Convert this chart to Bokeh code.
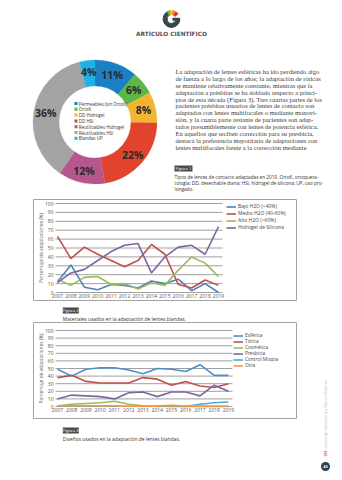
import math
from bokeh.plotting import figure
from bokeh.layouts import column, row
from bokeh.models import Range1d, FixedTicker, Legend, LegendItem
from bokeh.core.properties import value
from bokeh.embed import file_html
from bokeh.resources import INLINE

# ---------------- data ----------------
years = [2007, 2008, 2009, 2010, 2011, 2012, 2013, 2014, 2015, 2016, 2017, 2018, 2019]
year_labels = [str(y) for y in years]
pct_ticks = [0, 10, 20, 30, 40, 50, 60, 70, 80, 90, 100]

donut_categories = ["Permeables (sin OrtoK)", "OrtoK", "DD Hidrogel", "DD HSi",
                    "Reutilizables Hidrogel", "Reutilizables HSi", "Blandas UP"]
donut_values = [11, 6, 8, 22, 12, 36, 4]
donut_colors = ["#1b7fc4", "#5cb648", "#f2b531", "#e0442e", "#b5578c", "#a3a3a3", "#1eb0e6"]

materials = ["Bajo H2O (<40%)", "Medio H2O (40-60%)", "Alto H2O (>60%)", "Hidrogel de Silicona"]
bajo_h2o = [12, 31, 6, 3, 9, 8, 5, 13, 10, 15, 2, 10, 0]
medio_h2o = [63, 38, 51, 43, 36, 29, 36, 54, 43, 9, 5, 14, 8]
alto_h2o = [15, 8, 17, 18, 9, 10, 4, 11, 8, 25, 40, 33, 18]
hidrogel_silicona = [11, 22, 26, 36, 46, 53, 55, 22, 40, 51, 53, 43, 74]
material_colors = ["#4f81bd", "#c0504d", "#9bbb59", "#8064a2"]

designs = ["Esférica", "Tórica", "Cosmética", "Presbicia", "Control Miopía", "Otra"]
esferica = [49, 40, 49, 51, 51, 48, 43, 50, 49, 46, 55, 41, 41]
torica = [38, 41, 33, 31, 31, 31, 38, 36, 28, 33, 27, 25, 30]
cosmetica = [1, 3, 4, 5, 7, 3, 1, 0.5, 0, 0, 0, 0, 0]
presbicia = [10, 15, 14, 13, 10, 18, 19, 13, 19, 19, 14, 28, 20]
control_miopia = [float("nan")] * 7 + [0, 1, 0, 3, 5, 6]
otra = [1, 1, 1, 1, 1, 0.5, 0.5, 0.5, 1.5, 0.5, 0.5, 0.5, 0.5]
design_colors = ["#4f8fc7", "#c0504d", "#9bbb59", "#8064a2", "#4bacc6", "#f79646"]

paragraph = [
    "La adaptación de lentes esféricas ha ido perdiendo algo",
    "de fuerza a lo largo de los años; la adaptación de tóricas",
    "se mantiene relativamente constante, mientras que la",
    "adaptación a présbitas se ha doblado respecto a princi-",
    "pios de esta década (Figura 3). Tres cuartas partes de los",
    "pacientes présbitas usuarios de lentes de contacto son",
    "adaptados con lentes multifocales o mediante monovi-",
    "sión, y la cuarta parte restante de pacientes son adap-",
    "tados presumiblemente con lentes de potencia esférica.",
    "En aquellos que reciben corrección para su presbicia,",
    "destaca la preferencia mayoritaria de adaptaciones con",
    "lentes multifocales frente a la corrección mediante",
]
caption1 = [
    "Tipos de lentes de contacto adaptadas en 2019. OrtoK, ortoquera-",
    "tología; DD, desechable diaria; HSi, hidrogel de silicona; UP, uso pro-",
    "longado.",
]
caption2 = "Materiales usados en la adaptación de lentes blandas."
caption3 = "Diseños usados en la adaptación de lentes blandas."
axis_title = "Porcentaje de adaptaciones (%)"

SANS = "Open Sans"


def blank(w, h):
    p = figure(width=w, height=h, x_range=Range1d(0, w), y_range=Range1d(0, h),
               output_backend="svg", toolbar_location=None,
               x_axis_location=None, y_axis_location=None,
               min_border=0, min_border_left=0, min_border_right=0,
               min_border_top=0, min_border_bottom=0)
    p.grid.visible = False
    p.outline_line_color = None
    p.background_fill_color = "white"
    p.border_fill_color = "white"
    return p


def txt(p, x, y, t, size, color="#333333", font=SANS, align="left",
        baseline="middle", style="normal", angle=0.0):
    p.text(x=[x], y=[y], text=[t], text_font=value(font), text_font_size=size,
           text_color=color, text_align=align, text_baseline=baseline,
           text_font_style=style, angle=angle)


def fig_label(p, x, y_top, y_bot, label):
    p.quad(left=[x], right=[x + 18], top=[y_top], bottom=[y_bot],
           fill_color="#4b4b4b", line_color=None)
    txt(p, x + 9, (y_top + y_bot) / 2, label, "4.2px", color="white", align="center")


# ---------------- top section (page y 0..199) ----------------
TH = 199
top = blank(342, TH)
Y = lambda py: TH - py

# logo "G"
lx, ly = 171, Y(18.5)
top.annular_wedge(x=lx, y=ly, inner_radius=4.4, outer_radius=8.4,
                  start_angle=math.radians(118), end_angle=math.radians(360),
                  direction="anticlock", color="#37474f")
for a0, a1, c in [(98, 120, "#62b947"), (78, 98, "#f2c230"), (58, 78, "#f08a2c"), (38, 58, "#e0342b")]:
    top.annular_wedge(x=lx, y=ly, inner_radius=4.4, outer_radius=8.4,
                      start_angle=math.radians(a0), end_angle=math.radians(a1),
                      direction="anticlock", color=c)
top.quad(left=[lx + 1], right=[lx + 8.3], top=[Y(17.2)], bottom=[Y(20.2)],
         fill_color="#37474f", line_color=None)
txt(top, 171, Y(33.5), "ARTÍCULO CIENTÍFICO", "5.8px", color="#505050",
    font="DejaVu Sans", align="center", style="bold")

# donut
cx, cy = 94.5, Y(121.5)
total = float(sum(donut_values))
cum = 0.0
starts, ends, mids = [], [], []
for v in donut_values:
    a0 = math.pi / 2 - 2 * math.pi * cum / total
    cum += v
    a1 = math.pi / 2 - 2 * math.pi * cum / total
    starts.append(a0)
    ends.append(a1)
    mids.append((a0 + a1) / 2)
top.annular_wedge(x=cx, y=cy, inner_radius=36, outer_radius=62,
                  start_angle=starts, end_angle=ends, direction="clock",
                  fill_color=donut_colors, line_color=donut_colors, line_width=0.3)
r_lab = 50
top.text(x=[cx + r_lab * math.cos(m) for m in mids],
         y=[cy + r_lab * math.sin(m) for m in mids],
         text=[f"{v}%" for v in donut_values], text_font=value(SANS),
         text_font_size="10.5px", text_color="#2a2a2a", text_align="center",
         text_baseline="middle", text_font_style="bold")
leg_y = [Y(103 + 5.8 * i) for i in range(len(donut_categories))]
top.scatter(x=[75.5] * len(donut_categories), y=leg_y, marker="square", size=3,
            fill_color=donut_colors, line_color=None)
top.text(x=[78.3] * len(donut_categories), y=leg_y, text=donut_categories,
         text_font=value(SANS), text_font_size="4.5px", text_color="#333333",
         text_align="left", text_baseline="middle")

# paragraph
top.text(x=[175] * len(paragraph), y=[Y(71 + 6.88 * i) for i in range(len(paragraph))],
         text=paragraph, text_font=value("Liberation Serif"), text_font_size="6.5px",
         text_color="#3a3a3a", text_align="left", text_baseline="middle")

# figure 1 caption
fig_label(top, 174, Y(165), Y(171), "Figura 1")
top.text(x=[174] * len(caption1), y=[Y(176.5 + 6 * i) for i in range(len(caption1))],
         text=caption1, text_font=value(SANS), text_font_size="4.7px",
         text_color="#333333", text_align="left", text_baseline="middle")


# ---------------- charts ----------------
# The figure's frame is the grey box (page x 33..297); the plotting area inside it
# is set by the ranges, so the box, legend and labels all live inside the frame.
BOX_L, BOX_R = 33, 297


def chart(height, page_top, first_px, last_px, y100_px, y0_px, grid_px, label_py,
          series, names, colors, legend_font, legend_spacing, legend_loc):
    width = BOX_R
    fw = BOX_R - BOX_L
    pxyr = (last_px - first_px) / (years[-1] - years[0])
    xs = years[0] - (first_px - BOX_L) / pxyr
    xe = xs + fw / pxyr
    pxu = (y0_px - y100_px) / 100.0
    ys = -(page_top + height - y0_px) / pxu
    ye = 100 + (y100_px - page_top) / pxu
    to_x = lambda px: xs + (px - BOX_L) / pxyr

    p = figure(width=width, height=height, x_range=Range1d(xs, xe), y_range=Range1d(ys, ye),
               output_backend="svg", toolbar_location=None,
               min_border=0, min_border_left=BOX_L, min_border_right=0,
               min_border_top=0, min_border_bottom=0)
    p.outline_line_color = "#a3a3a3"
    p.outline_line_width = 1
    p.background_fill_color = "white"
    p.border_fill_color = "white"
    p.grid.visible = False

    # horizontal grid lines over the plotting area only
    gx0, gx1 = to_x(grid_px[0]), to_x(grid_px[1])
    p.segment(x0=[gx0] * len(pct_ticks), x1=[gx1] * len(pct_ticks), y0=pct_ticks, y1=pct_ticks,
              line_color="#a0a0a0", line_width=1)

    p.yaxis.ticker = FixedTicker(ticks=pct_ticks)
    p.xaxis.ticker = FixedTicker(ticks=years)
    p.xaxis.major_label_overrides = {y: l for y, l in zip(years, year_labels)}
    for ax in (p.xaxis, p.yaxis):
        ax.axis_line_color = None
        ax.major_tick_line_color = None
        ax.minor_tick_line_color = None
        ax.major_tick_out = 0
        ax.major_tick_in = 0
        ax.minor_tick_out = 0
        ax.minor_tick_in = 0
        ax.major_label_text_font = SANS
        ax.major_label_text_font_size = "5px"
        ax.major_label_text_color = "#555555"
    # pull the tick labels inside the box
    p.yaxis.major_label_standoff = -int(round(grid_px[0] - 2 - BOX_L))
    p.xaxis.major_label_standoff = -int(round(height - (label_py - page_top) + 3.5))

    # rotated axis title
    p.text(x=[to_x(40.5)], y=[50], text=[axis_title], angle=math.pi / 2,
           text_font=value(SANS), text_font_size="4.8px", text_color="#555555",
           text_align="center", text_baseline="middle")

    items = []
    for s, n, c in zip(series, names, colors):
        r = p.line(years, s, line_color=c, line_width=1.6)
        items.append(LegendItem(label=n, renderers=[r]))
    leg = Legend(items=items, location=legend_loc, label_text_font=SANS,
                 label_text_font_size=legend_font, label_text_color="#444444",
                 glyph_width=10, glyph_height=5, label_height=5, label_standoff=2,
                 padding=1, spacing=legend_spacing, margin=0,
                 border_line_color=None, background_fill_alpha=0)
    p.add_layout(leg)
    return p


chart1 = chart(102, 199, 57, 218, 203, 292, (55, 222), 297,
               [bajo_h2o, medio_h2o, alto_h2o, hidrogel_silicona], materials,
               material_colors, "5px", 1, (193, 71))
chart2 = chart(97, 322, 57, 228, 330, 406, (55, 232), 411,
               [esferica, torica, cosmetica, presbicia, control_miopia, otra], designs,
               design_colors, "4.8px", 0, (200, 51))

# ---------------- captions ----------------
mid = blank(297, 21)
MY = lambda py: 322 - py
fig_label(mid, 33, MY(307), MY(313), "Figura 2")
txt(mid, 33, MY(318), caption2, "4.9px")

bot = blank(297, 61)
BY = lambda py: 480 - py
fig_label(bot, 33, BY(427), BY(433), "Figura 3")
txt(bot, 33, BY(438.5), caption3, "4.9px")

# ---------------- right strip (page x 297..342, y 199..480) ----------------
strip = blank(45, 281)
SY = lambda py: 480 - py
txt(strip, 28, SY(456), "555", "3.6px", color="#d9543a", angle=math.pi / 2, style="bold")
txt(strip, 28, SY(448), "Gaceta de Optometría y Óptica Oftálmica", "3.6px",
    color="#b5b5b5", angle=math.pi / 2)
strip.scatter(x=[28], y=[SY(466)], size=9, marker="circle", fill_color="#2d3e50", line_color=None)
txt(strip, 28, SY(466), "43", "4px", color="white", align="center", style="bold")

left_col = column(chart1, mid, chart2, bot)
layout = column(top, row(left_col, strip))

open("out.html", "w").write(file_html(layout, INLINE))
